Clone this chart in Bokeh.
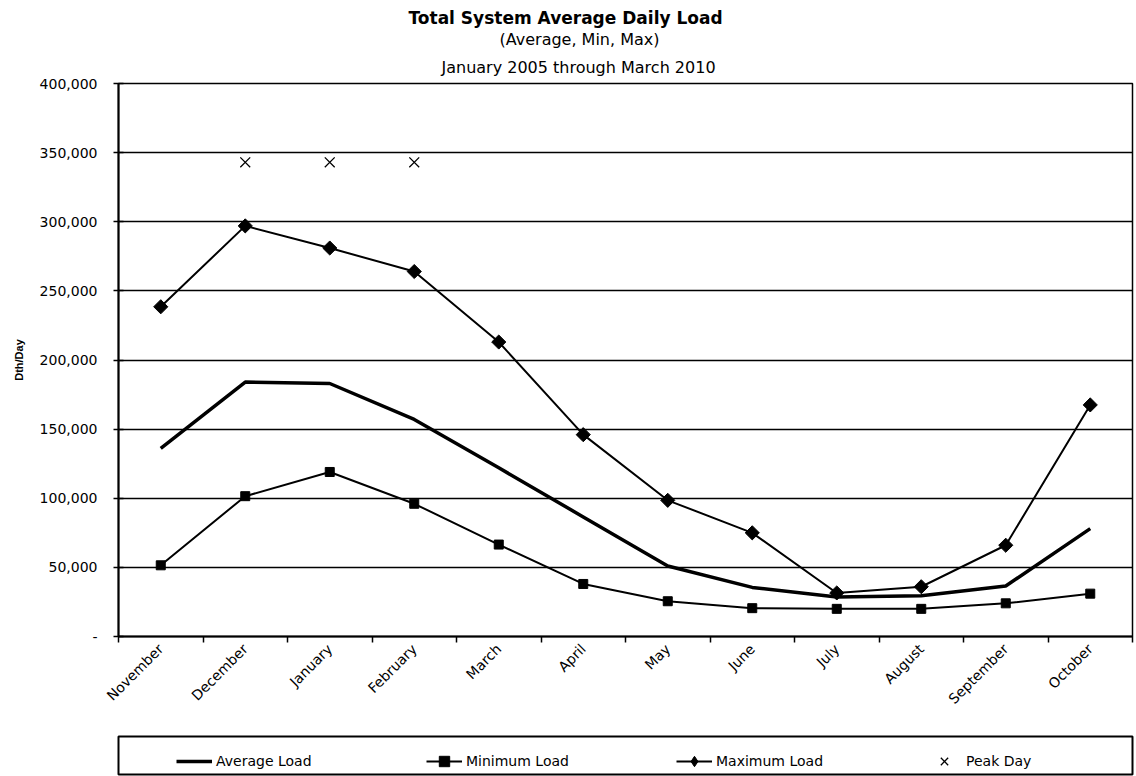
from math import pi
from bokeh.plotting import figure
from bokeh.layouts import column
from bokeh.models import (Range1d, FixedTicker, Title, Legend, LegendItem,
                          NumeralTickFormatter)
from bokeh.embed import file_html
from bokeh.resources import INLINE

# ---- data ----
months = ["November", "December", "January", "February", "March", "April",
          "May", "June", "July", "August", "September", "October"]
avg_load = [136000, 184000, 183000, 157000, 122000, 86500,
            51000, 35500, 28500, 29500, 36500, 78000]
min_load = [51500, 101500, 119000, 96000, 66500, 38000,
            25500, 20500, 20000, 20000, 24000, 31000]
max_load = [238500, 297000, 281000, 264000, 213000, 146000,
            98500, 75000, 31500, 36000, 66000, 167500]
peak_months = ["December", "January", "February"]
peak_day = [343000, 343000, 343000]
y_ticks = [0, 50000, 100000, 150000, 200000, 250000, 300000, 350000, 400000]
legend_labels = ["Average Load", "Minimum Load", "Maximum Load", "Peak Day"]

title_main = "Total System Average Daily Load"
title_sub1 = "(Average, Min, Max)"
title_sub2 = "January 2005 through March 2010"

FONT = "DejaVu Sans"
NAN = float("nan")

x_pos = {m: i + 0.5 for i, m in enumerate(months)}
xs = [x_pos[m] for m in months]
peak_xs = [x_pos[m] for m in peak_months]

p = figure(width=1134, height=733, output_backend="svg",
           toolbar_location=None,
           x_range=Range1d(0, len(months)), y_range=Range1d(0, y_ticks[-1]),
           title=None, min_border_left=118, min_border_right=2,
           min_border_top=83, min_border_bottom=97,
           background_fill_color="white", border_fill_color="white")

# titles (added bottom-up)
p.add_layout(Title(text=title_sub2, text_font=FONT, text_font_size="16px",
                   text_font_style="normal", text_color="black",
                   align="left", offset=323, standoff=14), "above")
p.add_layout(Title(text=title_sub1, text_font=FONT, text_font_size="16px",
                   text_font_style="normal", text_color="black",
                   align="left", offset=381, standoff=0), "above")
p.add_layout(Title(text=title_main, text_font=FONT, text_font_size="17px",
                   text_font_style="bold", text_color="black",
                   align="left", offset=290, standoff=0), "above")

# glyphs
avg_style = dict(line_color="black", line_width=3.5)
min_line_style = dict(line_color="black", line_width=2)
min_mark_style = dict(marker="square", size=9, fill_color="black",
                      line_color="black")
max_line_style = dict(line_color="black", line_width=2)
peak_style = dict(marker="x", size=14, line_color="black", line_width=1.3)

p.line(xs, avg_load, **avg_style)
p.line(xs, min_load, **min_line_style)
p.scatter(xs, min_load, **min_mark_style)
p.line(xs, max_load, **max_line_style)
p.scatter(xs, max_load, marker="square", angle=pi / 4, size=10,
          fill_color="black", line_color="black")
p.scatter(peak_xs, peak_day, **peak_style)

# x axis: labels at category centres, ticks at category boundaries
xt = FixedTicker(ticks=xs, minor_ticks=list(range(len(months) + 1)))
p.xaxis.ticker = xt
p.xaxis.major_label_overrides = {x: m for x, m in zip(xs, months)}
p.xaxis.major_label_orientation = pi / 4
p.xaxis.major_tick_line_color = None
p.xaxis.minor_tick_line_color = "black"
p.xaxis.minor_tick_line_width = 1.5
p.xaxis.minor_tick_out = 6
p.xaxis.minor_tick_in = 0
p.xaxis.major_label_standoff = 4
p.xaxis.major_label_text_font = FONT
p.xaxis.major_label_text_font_size = "14px"
p.xaxis.major_label_text_color = "black"
p.xaxis.axis_line_width = 2
p.xaxis.axis_line_color = "black"

# y axis
yt = FixedTicker(ticks=y_ticks)
p.yaxis.ticker = yt
p.yaxis.formatter = NumeralTickFormatter(format="0,0")
p.yaxis.major_label_overrides = {0: "-"}
p.yaxis.major_tick_in = 5
p.yaxis.major_tick_out = 5
p.yaxis.major_tick_line_width = 1.5
p.yaxis.minor_tick_line_color = None
p.yaxis.major_label_standoff = 16
p.yaxis.major_label_text_font = FONT
p.yaxis.major_label_text_font_size = "14px"
p.yaxis.major_label_text_color = "black"
p.yaxis.axis_line_width = 2
p.yaxis.axis_line_color = "black"
p.yaxis.axis_label = "Dth/Day"
p.yaxis.axis_label_text_font = "Liberation Sans"
p.yaxis.axis_label_text_font_size = "11px"
p.yaxis.axis_label_text_font_style = "bold"
p.yaxis.axis_label_text_color = "black"
p.yaxis.axis_label_standoff = 12

p.xgrid.visible = False
p.ygrid.ticker = yt
p.ygrid.grid_line_color = "black"
p.ygrid.grid_line_width = 1.6

p.outline_line_color = "black"
p.outline_line_width = 1.5

# ---- legend strip below the chart (legend-only renderers) ----
lg = figure(width=1134, height=43, output_backend="svg", toolbar_location=None,
            x_range=Range1d(0, 1), y_range=Range1d(0, 1), title=None,
            min_border_left=118, min_border_right=2, min_border_top=3,
            min_border_bottom=2, background_fill_color="white",
            border_fill_color="white")
lg.axis.visible = False
lg.grid.visible = False
lg.outline_line_color = "black"
lg.outline_line_width = 2

r_avg = lg.line([NAN], [NAN], **avg_style)
r_min_l = lg.line([NAN], [NAN], **min_line_style)
r_min_s = lg.scatter([NAN], [NAN], **min_mark_style)
r_max_l = lg.line([NAN], [NAN], **max_line_style)
r_max_s = lg.scatter([NAN], [NAN], marker="diamond", size=14,
                     fill_color="black", line_color="black")
r_peak = lg.scatter([NAN], [NAN], **peak_style)

legend = Legend(items=[
    LegendItem(label=legend_labels[0], renderers=[r_avg]),
    LegendItem(label=legend_labels[1], renderers=[r_min_l, r_min_s]),
    LegendItem(label=legend_labels[2], renderers=[r_max_l, r_max_s]),
    LegendItem(label=legend_labels[3], renderers=[r_peak]),
], orientation="horizontal", location=(58, 0),
    border_line_color=None, background_fill_alpha=0, padding=6, spacing=90,
    label_width=120, glyph_width=36, glyph_height=26, label_height=26,
    label_standoff=4, margin=0,
    label_text_font=FONT, label_text_font_size="14px",
    label_text_color="black")
lg.add_layout(legend, "center")

page = column(p, lg, spacing=0)
open("out.html", "w").write(file_html(page, INLINE))
